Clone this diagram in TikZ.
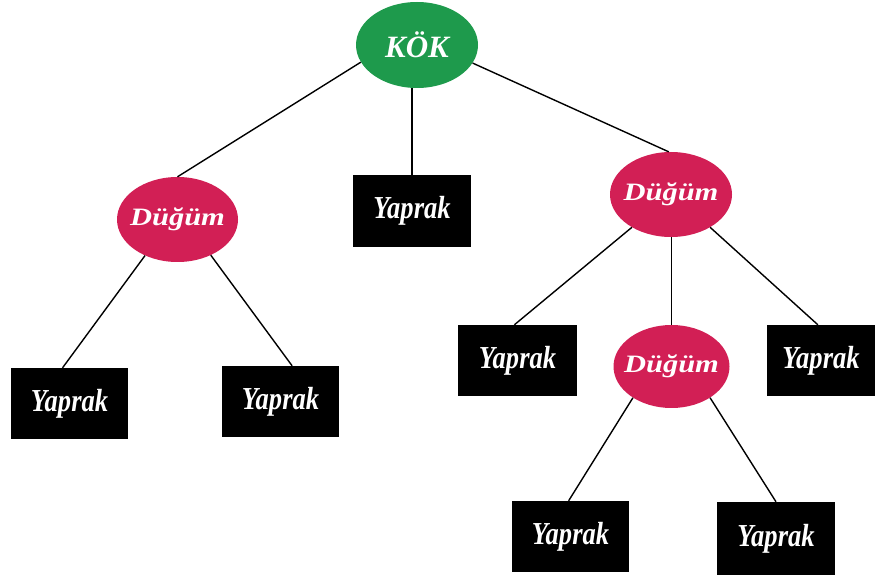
\documentclass[tikz,border=0pt]{standalone}
\usepackage{fontspec}
\setmainfont{Liberation Serif}
\usetikzlibrary{shapes.geometric}
\definecolor{rootgreen}{HTML}{1E9A4C}
\definecolor{nodered}{HTML}{D21F55}
% labels are boxed to zero width so the shapes keep their fixed size
\newcommand{\yaptext}{\makebox[0pt]{\scalebox{0.83}[1]{\fontsize{32}{32}\selectfont\bfseries\itshape Yaprak}}}
\newcommand{\dugtext}{\makebox[0pt]{\scalebox{1.22}[1]{\fontsize{25}{25}\selectfont\bfseries\itshape Düğüm}}}
\newcommand{\koktext}{\makebox[0pt]{\fontsize{31}{31}\selectfont\bfseries\itshape KÖK}}
\begin{document}
\begin{tikzpicture}[x=1pt,y=-1pt,
  rootnode/.style={ellipse,fill=rootgreen,text=white,inner sep=0pt,
    minimum width=122pt,minimum height=86pt},
  innernode/.style={ellipse,fill=nodered,text=white,inner sep=0pt,
    minimum width=121pt,minimum height=85pt},
  leafnode/.style={rectangle,fill=black,text=white,inner sep=0pt,
    minimum width=117pt,minimum height=71pt},
  edge/.style={draw=black,line width=1.4pt}]
\useasboundingbox (0,0) rectangle (876,577);

% tree nodes
\node[rootnode] (kok) at (417,45) {\koktext};
\node[innernode] (d1) at (177.5,219.5) {\dugtext};
\node[leafnode,minimum width=118pt,minimum height=72pt] (y0) at (412,211) {\yaptext};
\node[innernode,minimum width=122pt] (d2) at (671,194.5) {\dugtext};
\node[leafnode] (yl1) at (69.5,403.5) {\yaptext};
\node[leafnode] (yl2) at (280.5,401.5) {\yaptext};
\node[leafnode,minimum width=119pt] (yr1) at (517.5,360.5) {\yaptext};
\node[leafnode,minimum width=108pt] (yr2) at (821,360.5) {\yaptext};
\node[innernode,minimum width=116pt,minimum height=83pt] (d3) at (671.5,366.5) {\dugtext};
\node[leafnode] (yb1) at (570.5,536.5) {\yaptext};
\node[leafnode,minimum width=118pt,minimum height=73pt] (yb2) at (776,538.5) {\yaptext};

% branches
\draw[edge] (kok.197) -- (d1.north);
\draw[edge] (y0.north |- kok.south) -- (y0.north);
\draw[edge] (kok.342) -- (d2.93);
\draw[edge] (d1.228) -- (yl1.101);
\draw[edge] (d1.313) -- (yl2.72);
\draw[edge] (d2.220) -- (yr1.95);
\draw[edge] (d3.north |- d2.south) -- (d3.north);
\draw[edge] (d2.320) -- (yr2.95);
\draw[edge] (d3.219) -- (yb1.93);
\draw[edge] (d3.321) -- (yb2.north);
\end{tikzpicture}
\end{document}
